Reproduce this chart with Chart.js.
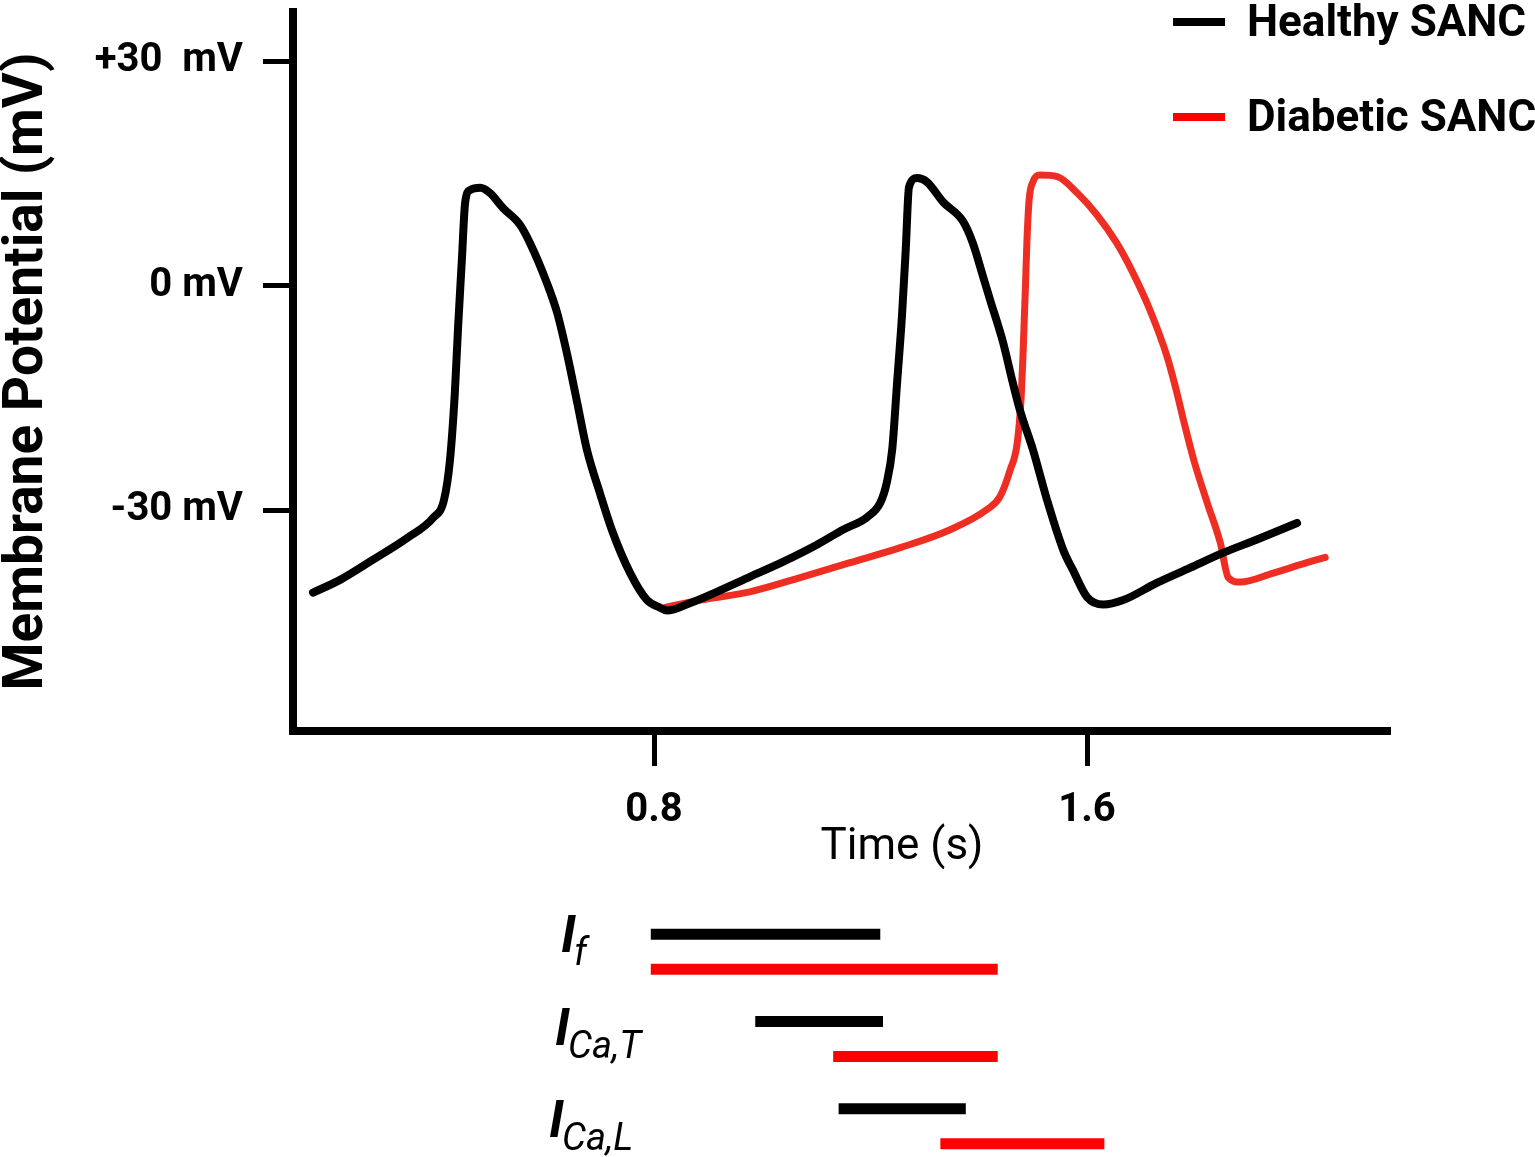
<!DOCTYPE html>
<html><head><meta charset="utf-8">
<script src="https://cdn.jsdelivr.net/npm/chart.js@4.4.1/dist/chart.umd.min.js"></script>
<style>
html,body{margin:0;padding:0;background:#fff;overflow:hidden;width:1535px;height:1157px;}
.wrap{position:absolute;left:0;width:1535px;}
</style></head><body>
<div class="wrap" style="top:0;height:880px"><canvas id="c1"></canvas></div>
<div class="wrap" style="top:880px;height:290px"><canvas id="c2"></canvas></div>
<script>
// ---- data ----
const timeTicks = [0.8, 1.6];
const voltageTicks = [-30, 0, 30];
const voltageTickLabels = ['-30 mV', '0 mV', '+30  mV'];
const seriesNames = ['Healthy SANC', 'Diabetic SANC'];

const healthyTime = [0.170,0.220,0.281,0.344,0.392,0.412,0.423,0.432,0.438,0.445,0.451,0.460,0.479,0.497,0.521,0.552,0.571,0.602,0.621,0.639,0.658,0.676,0.700,0.724,0.756,0.787,0.811,0.824,0.867,0.916,0.977,1.038,1.101,1.149,1.194,1.218,1.230,1.240,1.249,1.258,1.265,1.271,1.286,1.304,1.334,1.371,1.389,1.408,1.421,1.445,1.463,1.476,1.500,1.526,1.556,1.574,1.600,1.630,1.667,1.729,1.790,1.851,1.914,1.988];
const healthyVm = [-41.0,-39.3,-36.6,-33.7,-31.0,-28.6,-23.3,-14.3,-5.5,3.5,11.1,12.8,13.1,12.4,10.4,8.2,5.7,0.4,-3.6,-9.0,-15.6,-21.9,-27.7,-33.0,-38.4,-42.0,-43.0,-43.4,-42.4,-40.9,-38.9,-36.9,-34.6,-32.6,-30.9,-29.0,-26.3,-21.9,-13.0,-4.1,4.8,13.2,14.4,13.9,11.2,8.6,5.7,1.2,-1.9,-7.6,-13.0,-16.6,-21.9,-28.6,-35.3,-38.0,-41.6,-42.6,-42.0,-39.7,-37.7,-35.7,-33.9,-31.7];

const diabeticTime = [0.820,0.885,0.977,1.070,1.162,1.255,1.347,1.415,1.439,1.458,1.471,1.478,1.482,1.486,1.489,1.493,1.500,1.513,1.545,1.582,1.618,1.655,1.685,1.716,1.748,1.766,1.779,1.798,1.822,1.846,1.861,1.883,1.944,2.006,2.040];
const diabeticVm = [-43.0,-42.0,-40.9,-39.0,-37.0,-35.0,-32.6,-29.9,-28.2,-24.6,-21.0,-15.2,-8.6,-0.5,6.1,11.5,13.9,14.8,14.6,12.4,9.5,5.7,1.7,-3.2,-9.5,-14.3,-18.2,-23.5,-29.0,-34.3,-39.0,-39.6,-38.4,-37.0,-36.3];

const currentNames = [['I','f'], ['I','Ca,T'], ['I','Ca,L']];
const healthyWindows = [[0.794,1.218],[0.987,1.223],[1.141,1.376]];
const diabeticWindows = [[0.794,1.435],[1.131,1.435],[1.329,1.632]];

// ---- styling / layout ----
const X_MIN = 0.133, X_MAX = 2.156, Y_MIN = -59.5, Y_MAX = 36.6;
const FONT = 'Roboto';
const traceColors = ['#000000', '#ee2e22'];
const swatchColors = ['#000000', '#ff0000'];
const barColors = ['#000000', '#ff0000'];

const legendPlugin = {
  id: 'customLegend',
  afterDraw(chart) {
    const ctx = chart.ctx;
    ctx.save();
    chart.data.datasets.forEach((ds, i) => {
      const y = 22 + 95 * i;
      ctx.strokeStyle = swatchColors[i];
      ctx.lineWidth = 8;
      ctx.lineCap = 'butt';
      ctx.beginPath(); ctx.moveTo(1173, y); ctx.lineTo(1225, y); ctx.stroke();
      ctx.fillStyle = '#000';
      ctx.font = 'bold 44px ' + FONT;
      ctx.textAlign = 'left'; ctx.textBaseline = 'middle';
      ctx.fillText(ds.label, 1247, y + 3);
    });
    ctx.restore();
  }
};

const xTitlePlugin = {
  id: 'xTitle',
  afterDraw(chart) {
    const ctx = chart.ctx;
    ctx.save();
    ctx.fillStyle = '#000';
    ctx.font = '44px ' + FONT;
    ctx.textAlign = 'center'; ctx.textBaseline = 'middle';
    ctx.fillText('Time (s)', 902, 848);
    ctx.restore();
  }
};

const axisGrid = {drawOnChartArea:false, drawTicks:true, tickWidth:5, lineWidth:5, tickColor:'#000', color:'#000'};
const axisBorder = {display:true, width:8, color:'#000'};
const tickFont = {family:FONT, size:40, weight:'bold'};

new Chart(document.getElementById('c1'), {
  type: 'line',
  data: {
    datasets: [
      {label: seriesNames[0], data: healthyTime.map((t,i)=>({x:t, y:healthyVm[i]})),
       borderColor: traceColors[0], borderWidth: 8},
      {label: seriesNames[1], data: diabeticTime.map((t,i)=>({x:t, y:diabeticVm[i]})),
       borderColor: traceColors[1], borderWidth: 7}
    ]
  },
  options: {
    responsive: true, maintainAspectRatio: false, animation: false,
    layout: {padding: {top: 12, right: 147, left: 0, bottom: 0}},
    elements: {line: {cubicInterpolationMode: 'monotone', borderCapStyle: 'round', borderJoinStyle: 'round', fill: false},
               point: {radius: 0}},
    plugins: {legend: {display: false}, tooltip: {enabled: false}},
    scales: {
      x: {
        type: 'linear', min: X_MIN, max: X_MAX,
        afterBuildTicks: s => { s.ticks = timeTicks.map(v => ({value: v})); },
        afterFit: s => { s.height = 149; s.paddingLeft = 0; s.paddingRight = 0; },
        ticks: {color: '#000', font: tickFont, padding: 21, maxRotation: 0, autoSkip: false,
                callback: v => v.toFixed(1)},
        grid: Object.assign({tickLength: 35}, axisGrid),
        border: axisBorder,
        title: {display: false}
      },
      y: {
        type: 'linear', min: Y_MIN, max: Y_MAX,
        afterBuildTicks: s => { s.ticks = voltageTicks.map(v => ({value: v})); },
        afterFit: s => { s.width = 293; s.paddingTop = 0; s.paddingBottom = 0; },
        ticks: {color: '#000', font: tickFont, padding: 20, autoSkip: false,
                callback: v => voltageTickLabels[voltageTicks.indexOf(v)]},
        grid: Object.assign({tickLength: 30}, axisGrid),
        border: axisBorder,
        title: {display: true, text: 'Membrane Potential (mV)', color: '#000', align: 'center',
                font: {family: FONT, size: 55, weight: 'bold', lineHeight: 1}, padding: {top: 1, bottom: 0}}
      }
    }
  },
  plugins: [legendPlugin, xTitlePlugin]
});

const currentLabelPlugin = {
  id: 'currentLabels',
  afterDraw(chart) {
    const ctx = chart.ctx;
    const m0 = chart.getDatasetMeta(0), m1 = chart.getDatasetMeta(1);
    const xs = [561, 555, 549];
    const dy = [0, 6, 11];
    ctx.save();
    ctx.fillStyle = '#000';
    ctx.textAlign = 'left'; ctx.textBaseline = 'alphabetic';
    currentNames.forEach((n, i) => {
      const mid = (m0.data[i].y + m1.data[i].y) / 2;
      const base = mid + dy[i];
      ctx.font = 'italic bold 52px ' + FONT;
      ctx.fillText(n[0], xs[i], base);
      ctx.font = 'italic 38px ' + FONT;
      ctx.fillText(n[1], xs[i] + 13, base + 13);
    });
    ctx.restore();
  }
};

new Chart(document.getElementById('c2'), {
  type: 'bar',
  data: {
    labels: currentNames.map(n => n[0] + '_' + n[1]),
    datasets: [
      {label: seriesNames[0], data: healthyWindows, backgroundColor: barColors[0], borderWidth: 0},
      {label: seriesNames[1], data: diabeticWindows, backgroundColor: barColors[1], borderWidth: 0}
    ]
  },
  options: {
    indexAxis: 'y', responsive: true, maintainAspectRatio: false, animation: false,
    layout: {padding: {left: 293, right: 147, top: 28, bottom: 0}},
    datasets: {bar: {categoryPercentage: 0.80, barPercentage: 1, maxBarThickness: 11, borderSkipped: false}},
    plugins: {legend: {display: false}, tooltip: {enabled: false}},
    scales: {
      x: {type: 'linear', min: X_MIN, max: X_MAX, display: false},
      y: {type: 'category', display: false, offset: true}
    }
  },
  plugins: [currentLabelPlugin]
});
</script>
</body></html>
